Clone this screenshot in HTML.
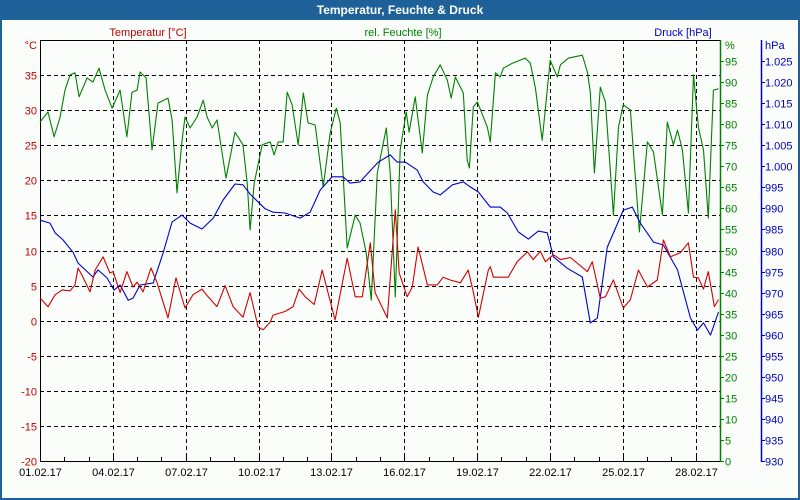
<!DOCTYPE html>
<html><head><meta charset="utf-8"><style>
html,body{margin:0;padding:0;background:#fff}
svg{display:block;font-family:"Liberation Sans",sans-serif;font-size:11px}
</style></head><body>
<svg id="chart" width="800" height="500" viewBox="0 0 800 500">
<rect x="0" y="0" width="800" height="500" fill="#1d6198"/>
<rect x="2" y="20" width="796" height="478" fill="#fbfdfb"/>
<text x="400" y="14" fill="#fff" font-weight="bold" font-size="12" text-anchor="middle">Temperatur, Feuchte &amp; Druck</text>
<text x="148" y="36" fill="#c00000" text-anchor="middle">Temperatur [°C]</text>
<text x="403" y="36" fill="#008000" text-anchor="middle">rel. Feuchte [%]</text>
<text x="683" y="36" fill="#0000c0" text-anchor="middle">Druck [hPa]</text>
<text x="37" y="49" fill="#c00000" text-anchor="end">°C</text>
<text x="725" y="49" fill="#008000">%</text>
<text x="765" y="49" fill="#0000c0">hPa</text>
<g id="grid"></g>
<g id="axes"></g>
<g id="series"></g>
</svg>
<script>
const tempDays=[0,.33,.62,.91,1.24,1.44,1.57,1.77,2.06,2.27,2.6,2.88,3.01,3.3,3.58,3.83,4,4.24,4.57,4.82,5.27,5.6,5.97,6.3,6.67,6.92,7.29,7.62,7.95,8.36,8.65,8.98,9.19,9.48,9.6,10.09,10.42,10.67,10.92,11.29,11.62,12.15,12.65,12.98,13.27,13.6,13.8,14.3,14.63,14.79,15.12,15.33,15.57,15.95,16.36,16.6,16.89,17.31,17.63,17.84,18.05,18.46,18.54,18.67,19.28,19.65,20.07,20.31,20.6,20.81,21.14,21.43,21.84,22.54,22.74,23.07,23.28,23.61,24.02,24.31,24.64,25.01,25.42,25.67,25.96,26.37,26.7,26.91,27.11,27.32,27.52,27.77,27.94];
const tempValues=[3.25,1.97,3.68,4.39,4.25,5.1,7.5,6.2,4.1,7.2,9.1,6.8,7.0,4.0,7.0,4.8,5.5,4.1,7.5,5.4,0.4,6.1,1.8,3.7,4.5,3.4,2.0,5.0,2.0,0.5,4.0,-0.9,-1.3,-0.2,0.8,1.3,2.0,4.5,3.4,2.3,7.2,0.1,8.9,3.4,3.4,11.1,4.0,0.4,15.8,6.8,3.4,4.8,10.5,5.1,5.1,6.2,5.8,5.4,7.2,4.1,0.5,7.2,7.7,6.2,6.2,8.4,9.8,8.7,9.9,8.4,9.4,8.7,9.0,7.0,8.4,3.2,3.4,5.8,1.8,3.0,7.2,4.8,5.8,11.5,9.1,9.7,11.1,6.2,6.1,4.5,7.0,2.0,3.0];
const humDays=[0,.33,.58,.82,1.03,1.24,1.44,1.61,1.94,2.18,2.43,2.68,2.97,3.3,3.58,3.79,4,4.12,4.37,4.61,4.86,5.27,5.44,5.64,5.85,5.97,6.18,6.47,6.72,6.88,7.09,7.29,7.5,7.66,7.83,8.03,8.36,8.53,8.65,8.82,9.15,9.48,9.64,9.81,10.01,10.18,10.38,10.63,10.84,11.04,11.33,11.66,11.95,12.2,12.36,12.65,12.98,13.18,13.43,13.64,13.89,14.26,14.42,14.63,14.83,15.08,15.2,15.45,15.74,15.95,16.19,16.48,16.77,16.93,17.1,17.43,17.59,17.68,17.84,18.01,18.42,18.54,18.75,18.95,19.08,19.45,19.98,20.19,20.4,20.68,21.01,21.3,21.43,21.76,22.33,22.54,22.66,22.83,23.07,23.28,23.49,23.61,23.82,24.02,24.31,24.43,24.68,25.01,25.26,25.63,25.83,26.08,26.25,26.45,26.7,26.91,27.11,27.32,27.52,27.73,27.94];
const humValues=[80.5,82.9,77.0,81.5,88.1,91.7,92.2,86.5,91.0,90.0,93.3,88.1,83.8,88.1,77.0,87.6,88.1,92.4,91.0,73.9,85.0,86.2,81.0,63.7,76.2,81.7,79.1,81.7,85.7,81.7,79.1,81.0,73.2,67.2,72.2,78.1,75.1,66.0,54.9,66.0,75.1,75.8,72.7,75.8,75.8,87.6,84.6,75.1,87.4,80.3,79.8,65.1,77.9,83.8,80.3,50.6,58.4,56.5,49.4,38.2,68.4,79.1,68.4,39.0,73.9,82.9,78.1,86.5,73.2,86.9,91.2,94.1,90.5,86.2,91.2,87.4,71.5,69.6,84.1,85.3,79.3,75.8,92.2,91.2,93.3,94.5,95.7,94.5,88.6,76.2,95.2,91.2,94.1,95.7,96.4,92.4,87.6,68.4,88.8,85.3,68.4,58.4,79.3,84.6,83.4,73.9,54.4,75.8,73.4,58.4,80.5,75.1,78.6,73.9,58.9,91.7,79.3,73.9,57.7,88.1,88.4];
const presDays=[0,.41,.62,.95,1.36,1.57,2.18,2.39,2.76,3.05,3.3,3.63,3.83,4.12,4.66,5.07,5.44,5.85,6.18,6.67,7.13,7.54,8.03,8.36,8.65,9.27,9.6,10.09,10.71,11.12,11.54,12.03,12.48,12.77,13.18,13.51,13.93,14.42,14.71,15.04,15.53,15.78,16.19,16.48,16.98,17.43,17.72,18.05,18.54,18.95,19.24,19.7,20.11,20.52,20.89,21.14,21.71,22.33,22.66,22.95,23.36,24.02,24.39,24.72,25.26,25.67,26.25,26.78,27.07,27.32,27.61,27.94];
const presValues=[987.2,986.5,984.2,982.5,979.6,977.0,973.7,975.4,973.5,970.6,971.8,968.2,968.7,971.8,972.3,979.4,986.8,988.4,986.5,985.1,987.7,992.0,995.8,995.6,993.4,989.9,989.1,988.9,987.7,989.1,994.4,997.5,997.5,996.0,996.3,998.4,1001.0,1002.7,1001.0,1001.0,999.1,996.3,993.9,993.2,995.6,996.3,995.1,993.9,990.3,990.3,988.9,984.4,982.7,984.6,984.2,978.5,975.8,973.7,962.8,964.0,980.8,989.6,990.3,986.5,982.0,981.3,975.4,964.0,961.1,962.8,959.9,965.4];
const dateLabels=["01.02.17","04.02.17","07.02.17","10.02.17","13.02.17","16.02.17","19.02.17","22.02.17","25.02.17","28.02.17"];
const tempTicks=[35,30,25,20,15,10,5,0,-5,-10,-15,-20];
const humTicks=[95,90,85,80,75,70,65,60,55,50,45,40,35,30,25,20,15,10,5,0];
const presTicks=[1025,1020,1015,1010,1005,1000,995,990,985,980,975,970,965,960,955,950,945,940,935,930];

const L=40,R=720,T=40,B=461,NS="http://www.w3.org/2000/svg";
const xS=d=>L+d*(R-L)/28;
const yT=v=>B-(v+20)*(B-T)/60;
const yH=v=>B-v*(B-T)/100;
const yP=v=>B-(v-930)*(B-T)/100;
function mk(tag,attrs,parent,text){const e=document.createElementNS(NS,tag);for(const k in attrs)e.setAttribute(k,attrs[k]);if(text!==undefined)e.textContent=text;parent.appendChild(e);return e;}
const grid=document.getElementById('grid'),axes=document.getElementById('axes'),series=document.getElementById('series');
tempTicks.forEach(v=>{const y=Math.round(yT(v))+.5;
 if(v>-20){const g=mk('line',{x1:L,x2:R,y1:y,y2:y,stroke:'#000','stroke-dasharray':'4,3'},grid);
 
 }
 const t=mk('text',{x:37,y:y+4,fill:'#c00000','text-anchor':'end'},axes,String(v));
 
 });
dateLabels.forEach((s,i)=>{const x=Math.round(xS(i*3))+.5;
 if(i>0){const g=mk('line',{x1:x,x2:x,y1:T,y2:B,stroke:'#000','stroke-dasharray':'4,3'},grid);
 
 }
 const t=mk('text',{x:x,y:B+15,fill:'#000','text-anchor':'middle'},axes,s);
 
 });
for(let d=0;d<=28;d++){const x=Math.round(xS(d))+.5;const m=mk('line',{x1:x,x2:x,y1:B-4,y2:B,stroke:'#000'},axes);
 
 }
const box=mk('rect',{x:L+.5,y:T+.5,width:R-L,height:B-T,fill:'none',stroke:'#000'},axes);


const ga=mk('line',{x1:R+.5,x2:R+.5,y1:T,y2:B+1,stroke:'#008000','stroke-width':1.5},axes);


humTicks.forEach(v=>{const y=Math.round(yH(v))+.5;mk('line',{x1:R,x2:R+4,y1:y,y2:y,stroke:'#008000'},axes);
 const t=mk('text',{x:725,y:y+4,fill:'#008000'},axes,String(v));
 
 });
const pa=mk('line',{x1:761.5,x2:761.5,y1:T,y2:B+1,stroke:'#0000c0','stroke-width':1.5},axes);


presTicks.forEach(v=>{const y=Math.round(yP(v))+.5;mk('line',{x1:761,x2:765,y1:y,y2:y,stroke:'#0000c0'},axes);
 const t=mk('text',{x:765,y:y+4,fill:'#0000c0'},axes,v.toFixed(3).replace(/(\d)(\d{3})\.000/,'$1.$2').replace(/^(\d{3})\.000$/,'$1'));
 
 });
function line(days,vals,yf,color,name){const pts=days.map((d,i)=>xS(d).toFixed(1)+','+yf(vals[i]).toFixed(1)).join(' ');
 const p=mk('polyline',{points:pts,fill:'none',stroke:color,'stroke-width':1.1,'stroke-linejoin':'round'},series);
 
 }
line(humDays,humValues,yH,'#008000','humidity-line');
line(presDays,presValues,yP,'#0000d0','pressure-line');
line(tempDays,tempValues,yT,'#d00000','temperature-line');
</script>
</body></html>
